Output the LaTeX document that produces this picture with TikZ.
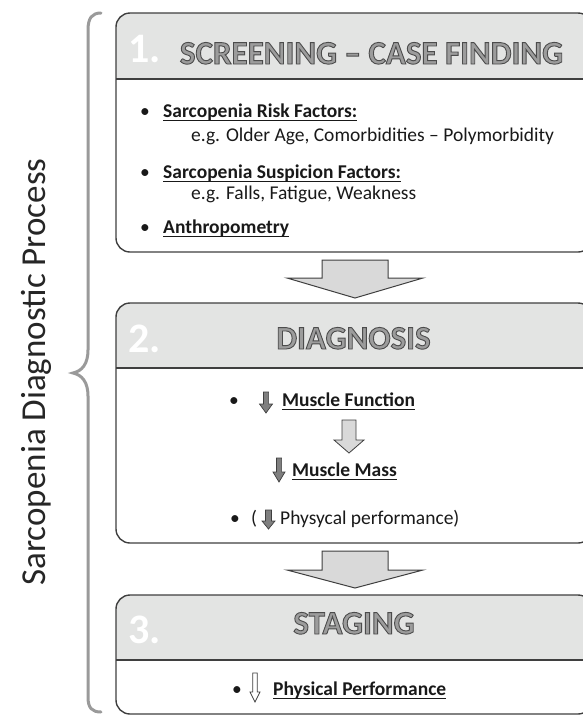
\documentclass[tikz,border=0pt]{standalone}
\usepackage{fontspec}
\setmainfont{Carlito}
\definecolor{hdr}{HTML}{E3E4E3}
\definecolor{edge}{HTML}{3F3F3F}
\definecolor{arrowfill}{HTML}{D9D9D9}
\definecolor{titlefill}{HTML}{9C9C9C}
\definecolor{bracecol}{HTML}{9A9A9A}
\definecolor{smallarrow}{HTML}{7F7F7F}
\newcommand\bodyfont{\fontsize{19.5}{23}\selectfont}
\newcommand\stagebox[3]{%
  \begin{scope}
    \clip[rounded corners=14pt] (116,#1) rectangle (592,#3);
    \fill[hdr] (116,#1) rectangle (592,#2);
  \end{scope}
  \draw[boxline, rounded corners=14pt] (116,#1) rectangle (592,#3);
  \draw[divider] (116,#2) -- (592,#2);
}
% outlined text: gray fill, dark stroke
\newcommand\outlinedtext[1]{\special{pdf:literal direct 0.30 G 0.9 w 2 Tr}#1\special{pdf:literal direct 0 Tr}}
% center x, top, head start, tip, stem half width, head half width
\newcommand\dnarrow[7]{%
  \draw[#1] (#2-#6,#3) -- (#2+#6,#3) -- (#2+#6,#4) -- (#2+#7,#4) -- (#2,#5) -- (#2-#7,#4) -- (#2-#6,#4) -- cycle;}
\newcommand\ulnode[1]{\draw[line width=1.1pt, black!90] ([yshift=-3.6pt]#1.base west) -- ([yshift=-3.6pt]#1.base east);}
\tikzset{
  body/.style={font=\bodyfont, inner sep=0pt, anchor=base west, text=black!90},
  bul/.style={font=\bodyfont, inner sep=0pt, anchor=base, text=black!90},
  num/.style={font=\fontsize{42}{46}\selectfont\bfseries, text=white, inner sep=0pt, anchor=base west},
  ttl/.style={font=\fontsize{33}{37}\selectfont\bfseries, inner sep=0pt, anchor=base, text=titlefill},
  boxline/.style={draw=edge, line width=1.4pt},
  divider/.style={draw=edge, line width=1.8pt},
  bigarrow/.style={fill=arrowfill, draw=edge, line width=1pt, line join=miter},
  inarrow/.style={fill=smallarrow, draw=edge, line width=0.7pt, line join=miter},
  inarrowl/.style={fill=arrowfill, draw=edge, line width=0.8pt, line join=miter},
  inarroww/.style={fill=white, draw=edge, line width=0.7pt, line join=miter},
}
\begin{document}
\begin{tikzpicture}[x=1pt,y=-1pt]
\useasboundingbox (0,0) rectangle (583,716);
\clip (0,0) rectangle (583,716);

% left brace and label
\draw[bracecol, line width=3pt, line cap=round]
  (101,13) .. controls (92,13) and (88,18) .. (88,30) -- (88,350)
  .. controls (88,364) and (82,371) .. (73,373)
  .. controls (82,375) and (88,382) .. (88,396) -- (88,697)
  .. controls (88,708) and (92,712) .. (101,712);
\node[rotate=90, font=\fontsize{35}{40}\selectfont, text=black!85, inner sep=0pt] (lbl) at (36,372) {Sarcopenia Diagnostic Process};

% stage boxes
\stagebox{13}{79}{252}
\stagebox{303}{368}{543}
\stagebox{595}{660}{714}

\node[num] (n1) at (128,62) {1.};
\node[num] (n2) at (128,352) {2.};
\node[num] (n3) at (128,643) {3.};
\node[ttl] (t1) at (371.5,64) {\outlinedtext{SCREENING – CASE FINDING}};
\node[ttl] (t2) at (353.5,349) {\outlinedtext{DIAGNOSIS}};
\node[ttl] (t3) at (354,634) {\outlinedtext{STAGING}};

% big arrows between boxes
\dnarrow{bigarrow}{355}{260}{278}{298}{33}{68}
\dnarrow{bigarrow}{355}{551}{570}{588}{33}{68}

% box 1 content
\node[bul] (u1) at (145,117) {•};
\node[body] (s1) at (163,117) {\bfseries Sarcopenia Risk Factors:};
\ulnode{s1}
\node[body] (e1) at (191,141) {e.g. Older Age, Comorbidities – Polymorbidity};
\node[bul] (u2) at (145,178) {•};
\node[body] (s2) at (163,178) {\bfseries Sarcopenia Suspicion Factors:};
\ulnode{s2}
\node[body] (e2) at (191,199) {e.g. Falls, Fatigue, Weakness};
\node[bul] (u3) at (145,233) {•};
\node[body] (s3) at (163,233) {\bfseries Anthropometry};
\ulnode{s3}

% box 2 content
\node[bul] (u4) at (234,406) {•};
\dnarrow{inarrow}{266}{392}{404}{413}{2.6}{6.5}
\node[body] (m1) at (282,406) {\bfseries Muscle Function};
\ulnode{m1}
\dnarrow{inarrowl}{349}{420}{440}{453}{7}{15}
\dnarrow{inarrow}{279}{458}{472}{482}{2.6}{6}
\node[body] (m2) at (292,476) {\bfseries Muscle Mass};
\ulnode{m2}
\node[bul] (u5) at (235,524) {•};
\node[body] (p0) at (251,524) {(};
\dnarrow{inarrow}{268.5}{510}{521}{529}{3}{6.5}
\node[body] (p1) at (280,524) {Physycal performance)};

% box 3 content
\node[bul] (u6) at (237,695) {•};
\dnarrow{inarroww}{255}{673}{692}{702}{2.2}{5}
\node[body] (q1) at (273,695) {\bfseries Physical Performance};
\ulnode{q1}
\end{tikzpicture}
\end{document}
